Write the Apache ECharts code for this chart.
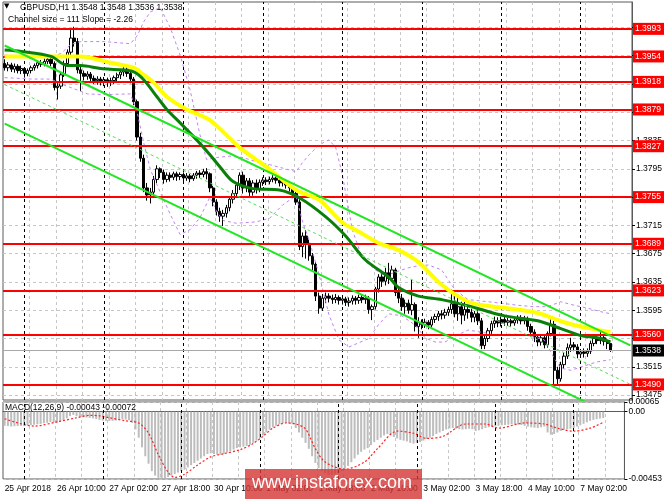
<!DOCTYPE html>
<html><head><meta charset="utf-8">
<script src="https://cdn.jsdelivr.net/npm/echarts@6/dist/echarts.min.js"></script>
<style>html,body{margin:0;padding:0;background:#fff}#c{width:665px;height:499px}</style>
</head><body><div id="c"></div>
<script>
// ---------- DATA ----------
const symbolName = 'GBPUSD', periodName = 'H1';
const channelSize = 111, channelSlope = -2.26;
const days = ['25 Apr','26 Apr','27 Apr','30 Apr','1 May','2 May','3 May','4 May','7 May'];
const firstHour = 18, lastHour = 9, emptySlots = 6;
const firstLabel = '25 Apr 2018';
// O, H, L, C per H1 bar
const candles = [
[1.3944,1.3950,1.3934,1.3938],[1.3938,1.3946,1.3933,1.3942],[1.3942,1.3945,1.3932,1.3936],[1.3936,1.3944,1.3931,1.3940],
[1.3940,1.3943,1.3930,1.3934],[1.3934,1.3941,1.3929,1.3937],[1.3937,1.3939,1.3924,1.3930],[1.3930,1.3937,1.3926,1.3934],
[1.3934,1.3941,1.3930,1.3938],[1.3938,1.3944,1.3934,1.3941],[1.3941,1.3948,1.3937,1.3945],[1.3945,1.3949,1.3939,1.3943],
[1.3943,1.3951,1.3940,1.3947],[1.3947,1.3954,1.3943,1.3950],[1.3950,1.3953,1.3940,1.3944],[1.3944,1.3947,1.3906,1.3910],
[1.3910,1.3918,1.3893,1.3912],[1.3912,1.3931,1.3908,1.3928],[1.3928,1.3948,1.3925,1.3944],[1.3944,1.3964,1.3940,1.3960],
[1.3960,1.3992,1.3955,1.3980],[1.3980,1.3996,1.3968,1.3975],[1.3975,1.3980,1.3930,1.3935],[1.3935,1.3940,1.3905,1.3930],
[1.3930,1.3934,1.3920,1.3926],[1.3926,1.3933,1.3921,1.3929],[1.3929,1.3932,1.3918,1.3923],[1.3923,1.3927,1.3915,1.3920],
[1.3920,1.3926,1.3914,1.3922],[1.3922,1.3925,1.3913,1.3918],[1.3918,1.3925,1.3912,1.3921],[1.3921,1.3924,1.3911,1.3917],
[1.3917,1.3924,1.3912,1.3920],[1.3920,1.3927,1.3915,1.3924],[1.3924,1.3931,1.3918,1.3928],[1.3928,1.3936,1.3922,1.3932],
[1.3932,1.3939,1.3926,1.3936],[1.3936,1.3940,1.3925,1.3930],[1.3930,1.3934,1.3916,1.3922],[1.3922,1.3925,1.3885,1.3890],
[1.3890,1.3893,1.3835,1.3840],[1.3840,1.3846,1.3805,1.3810],[1.3810,1.3815,1.3762,1.3768],[1.3768,1.3775,1.3750,1.3758],
[1.3758,1.3768,1.3746,1.3762],[1.3762,1.3785,1.3756,1.3780],[1.3780,1.3800,1.3775,1.3795],[1.3795,1.3797,1.3782,1.3790],
[1.3790,1.3794,1.3774,1.3780],[1.3780,1.3790,1.3776,1.3786],[1.3786,1.3790,1.3777,1.3783],[1.3783,1.3791,1.3779,1.3788],
[1.3788,1.3791,1.3778,1.3784],[1.3784,1.3790,1.3779,1.3787],[1.3787,1.3790,1.3776,1.3782],[1.3782,1.3789,1.3778,1.3785],
[1.3785,1.3788,1.3776,1.3781],[1.3781,1.3789,1.3778,1.3786],[1.3786,1.3792,1.3781,1.3789],[1.3789,1.3793,1.3782,1.3787],
[1.3787,1.3795,1.3783,1.3791],[1.3791,1.3796,1.3780,1.3788],[1.3788,1.3790,1.3762,1.3768],[1.3768,1.3771,1.3742,1.3748],
[1.3748,1.3752,1.3729,1.3735],[1.3735,1.3740,1.3720,1.3728],[1.3728,1.3737,1.3714,1.3732],[1.3732,1.3744,1.3726,1.3740],
[1.3740,1.3756,1.3735,1.3752],[1.3752,1.3765,1.3746,1.3760],[1.3760,1.3776,1.3756,1.3772],[1.3772,1.3790,1.3765,1.3786],
[1.3786,1.3791,1.3760,1.3768],[1.3768,1.3782,1.3762,1.3778],[1.3778,1.3782,1.3755,1.3762],[1.3762,1.3779,1.3757,1.3775],
[1.3775,1.3780,1.3760,1.3766],[1.3766,1.3780,1.3762,1.3776],[1.3776,1.3783,1.3771,1.3779],[1.3779,1.3783,1.3772,1.3777],
[1.3777,1.3784,1.3773,1.3780],[1.3780,1.3786,1.3776,1.3782],[1.3782,1.3785,1.3774,1.3779],[1.3779,1.3782,1.3770,1.3775],
[1.3775,1.3781,1.3770,1.3777],[1.3777,1.3780,1.3767,1.3772],[1.3772,1.3775,1.3763,1.3768],[1.3768,1.3771,1.3755,1.3760],
[1.3760,1.3764,1.3744,1.3748],[1.3748,1.3752,1.3680,1.3685],[1.3685,1.3705,1.3670,1.3700],[1.3700,1.3708,1.3668,1.3688],
[1.3688,1.3695,1.3665,1.3672],[1.3672,1.3676,1.3652,1.3660],[1.3660,1.3663,1.3608,1.3615],[1.3615,1.3620,1.3590,1.3598],
[1.3598,1.3618,1.3594,1.3612],[1.3612,1.3620,1.3605,1.3615],[1.3615,1.3619,1.3606,1.3612],[1.3612,1.3617,1.3604,1.3610],
[1.3610,1.3618,1.3605,1.3613],[1.3613,1.3616,1.3603,1.3609],[1.3609,1.3615,1.3603,1.3611],[1.3611,1.3614,1.3601,1.3606],
[1.3606,1.3613,1.3600,1.3608],[1.3608,1.3616,1.3603,1.3612],[1.3612,1.3615,1.3603,1.3609],[1.3609,1.3617,1.3604,1.3613],
[1.3613,1.3616,1.3605,1.3610],[1.3610,1.3617,1.3604,1.3612],[1.3612,1.3615,1.3590,1.3596],[1.3596,1.3603,1.3581,1.3600],
[1.3600,1.3628,1.3596,1.3625],[1.3625,1.3646,1.3620,1.3642],[1.3642,1.3650,1.3628,1.3636],[1.3636,1.3655,1.3630,1.3648],
[1.3648,1.3662,1.3632,1.3640],[1.3640,1.3658,1.3635,1.3652],[1.3652,1.3655,1.3615,1.3620],[1.3620,1.3628,1.3605,1.3612],
[1.3612,1.3618,1.3594,1.3600],[1.3600,1.3610,1.3590,1.3605],[1.3605,1.3610,1.3590,1.3595],[1.3595,1.3638,1.3588,1.3603],
[1.3603,1.3606,1.3565,1.3572],[1.3572,1.3585,1.3556,1.3578],[1.3578,1.3582,1.3568,1.3575],[1.3575,1.3583,1.3570,1.3578],
[1.3578,1.3581,1.3568,1.3574],[1.3574,1.3586,1.3570,1.3582],[1.3582,1.3590,1.3577,1.3586],[1.3586,1.3594,1.3580,1.3590],
[1.3590,1.3595,1.3582,1.3588],[1.3588,1.3597,1.3583,1.3592],[1.3592,1.3600,1.3587,1.3596],[1.3596,1.3624,1.3590,1.3604],
[1.3604,1.3615,1.3585,1.3590],[1.3590,1.3618,1.3580,1.3600],[1.3600,1.3607,1.3575,1.3588],[1.3588,1.3612,1.3580,1.3596],
[1.3596,1.3600,1.3583,1.3592],[1.3592,1.3597,1.3578,1.3585],[1.3585,1.3594,1.3578,1.3590],[1.3590,1.3596,1.3574,1.3580],
[1.3580,1.3584,1.3540,1.3545],[1.3545,1.3560,1.3540,1.3555],[1.3555,1.3570,1.3550,1.3566],[1.3566,1.3580,1.3560,1.3576],
[1.3576,1.3586,1.3570,1.3580],[1.3580,1.3585,1.3571,1.3577],[1.3577,1.3586,1.3572,1.3582],[1.3582,1.3586,1.3573,1.3578],
[1.3578,1.3584,1.3573,1.3580],[1.3580,1.3583,1.3572,1.3577],[1.3577,1.3585,1.3573,1.3581],[1.3581,1.3588,1.3576,1.3584],
[1.3584,1.3588,1.3575,1.3580],[1.3580,1.3587,1.3575,1.3583],[1.3583,1.3586,1.3566,1.3572],[1.3572,1.3576,1.3558,1.3564],
[1.3564,1.3568,1.3550,1.3557],[1.3557,1.3560,1.3544,1.3550],[1.3550,1.3560,1.3545,1.3556],[1.3556,1.3559,1.3541,1.3546],
[1.3546,1.3565,1.3542,1.3562],[1.3562,1.3582,1.3558,1.3575],[1.3575,1.3580,1.3486,1.3510],[1.3510,1.3515,1.3490,1.3498],
[1.3498,1.3522,1.3494,1.3518],[1.3518,1.3535,1.3512,1.3530],[1.3530,1.3548,1.3526,1.3542],[1.3542,1.3556,1.3536,1.3546],
[1.3546,1.3550,1.3537,1.3543],[1.3543,1.3547,1.3527,1.3533],[1.3533,1.3540,1.3528,1.3536],[1.3536,1.3541,1.3528,1.3534],
[1.3534,1.3541,1.3529,1.3537],[1.3537,1.3552,1.3533,1.3548],[1.3548,1.3559,1.3544,1.3555],[1.3555,1.3560,1.3547,1.3552],
[1.3552,1.3565,1.3547,1.3556],[1.3556,1.3559,1.3545,1.3551],[1.3551,1.3555,1.3540,1.3548],[1.3548,1.3548,1.3536,1.3538]
];
const levels = [1.3993, 1.3954, 1.3918, 1.3879, 1.3827, 1.3755, 1.3689, 1.3623, 1.3560, 1.3490];
const priceTicks = [1.3475,1.3515,1.3555,1.3595,1.3635,1.3675,1.3715,1.3755,1.3795,1.3835,1.3875,1.3915,1.3955,1.3995];
const priceMin = 1.3468, priceMax = 1.4031;
const maYellow = [[0,1.3954],[23,1.3954],[32,1.3945],[39,1.3938],[42,1.3928],[45,1.3917],[49,1.3897],[55,1.3879],[62,1.3864],[71,1.3825],[79,1.3798],[88,1.3765],[95,1.3751],[102,1.3719],[107,1.3706],[113,1.3690],[119,1.3680],[125,1.3663],[132,1.3631],[140,1.3607],[146,1.3601],[153,1.3597],[161,1.3591],[169,1.3578],[176,1.3570],[183,1.3564]];
const maGreen = [[0,1.3963],[5,1.3961],[14,1.3954],[19,1.3941],[23,1.3941],[29,1.3937],[35,1.3935],[39,1.3932],[42,1.3921],[46,1.3897],[49,1.3879],[53,1.3860],[58,1.3836],[62,1.3815],[65,1.3798],[69,1.3777],[75,1.3767],[83,1.3765],[89,1.3754],[97,1.3727],[103,1.3700],[109,1.3666],[116,1.3642],[119,1.3627],[125,1.3615],[132,1.3610],[141,1.3600],[151,1.3587],[161,1.3580],[168,1.3569],[174,1.3559],[179,1.3556],[183,1.3550]];
const bbUpper = [[0,1.3956],[8,1.3954],[14,1.3954],[17,1.3958],[20,1.3971],[23,1.3975],[30,1.3975],[38,1.3972],[40,1.3983],[42,1.4003],[44,1.4017],[47,1.4023],[50,1.3995],[53,1.3956],[56,1.3907],[59,1.3843],[61,1.3808],[64,1.3811],[68,1.3813],[72,1.3811],[76,1.3805],[80,1.3801],[84,1.3796],[88,1.3791],[90,1.3804],[92,1.3815],[95,1.3829],[98,1.3836],[100,1.3825],[102,1.3787],[105,1.3709],[108,1.3669],[112,1.3652],[115,1.3643],[118,1.3649],[122,1.3655],[125,1.3658],[128,1.3659],[132,1.3652],[136,1.3624],[140,1.3610],[146,1.3607],[150,1.3605],[155,1.3602],[160,1.3600],[164,1.3600],[168,1.3607],[172,1.3602],[176,1.3598],[180,1.3593],[183,1.3590]];
const bbLower = [[0,1.3924],[8,1.3922],[14,1.3922],[17,1.3915],[20,1.3910],[25,1.3901],[30,1.3900],[38,1.3901],[40,1.3876],[42,1.3832],[44,1.3794],[47,1.3762],[50,1.3731],[53,1.3702],[56,1.3709],[59,1.3726],[62,1.3755],[64,1.3735],[66,1.3722],[70,1.3718],[76,1.3720],[80,1.3725],[84,1.3744],[88,1.3757],[90,1.3720],[92,1.3694],[95,1.3645],[98,1.3588],[101,1.3553],[104,1.3543],[107,1.3549],[110,1.3555],[113,1.3575],[116,1.3590],[120,1.3587],[124,1.3574],[127,1.3556],[130,1.3550],[133,1.3550],[136,1.3558],[140,1.3567],[144,1.3564],[148,1.3560],[152,1.3561],[156,1.3561],[160,1.3557],[163,1.3553],[166,1.3527],[168,1.3513],[171,1.3510],[175,1.3516],[179,1.3522],[183,1.3525]];
const channelUpper = [[0,1.39695],[189,1.35453]];
const channelMiddle = [[0,1.39142],[189,1.34901]];
const channelLower = [[0,1.38590],[189,1.34349]];
const macdHist = [
-0.00095,-0.00097,-0.00100,-0.00098,-0.00096,-0.00095,
-0.00097,-0.00093,-0.00090,-0.00088,
-0.00085,-0.00082,-0.00078,-0.00075,-0.00070,-0.00072,-0.00075,-0.00068,-0.00058,-0.00045,
-0.00030,-0.00022,-0.00030,-0.00035,-0.00038,-0.00040,-0.00042,-0.00045,-0.00050,
-0.00055,-0.00060,-0.00062,-0.00063,-0.00062,-0.00060,-0.00056,-0.00052,-0.00053,-0.00058,
-0.00075,-0.00120,-0.00175,-0.00240,-0.00300,-0.00350,-0.00400,-0.00430,-0.00445,-0.00450,
-0.00448,-0.00440,-0.00430,-0.00420,-0.00410,-0.00400,-0.00390,-0.00375,-0.00360,-0.00345,
-0.00330,-0.00315,-0.00300,-0.00285,-0.00280,-0.00285,-0.00290,-0.00290,-0.00285,-0.00275,
-0.00265,-0.00255,-0.00245,-0.00240,-0.00235,-0.00230,-0.00222,-0.00210,-0.00195,-0.00180,
-0.00160,-0.00140,-0.00120,-0.00105,-0.00095,-0.00085,-0.00078,-0.00075,-0.00080,-0.00085,
-0.00110,-0.00140,-0.00175,-0.00210,-0.00250,-0.00300,-0.00345,-0.00380,-0.00400,-0.00415,
-0.00425,-0.00425,-0.00420,-0.00410,-0.00400,-0.00385,-0.00365,-0.00340,-0.00315,-0.00290,
-0.00270,-0.00255,-0.00245,-0.00225,-0.00205,-0.00190,-0.00175,-0.00160,-0.00150,-0.00155,
-0.00170,-0.00180,-0.00190,-0.00195,-0.00200,-0.00210,-0.00215,-0.00210,-0.00205,-0.00195,
-0.00185,-0.00175,-0.00165,-0.00150,-0.00140,-0.00130,-0.00120,-0.00112,-0.00110,-0.00115,
-0.00118,-0.00120,-0.00118,-0.00115,-0.00118,-0.00130,-0.00125,-0.00118,-0.00110,-0.00105,
-0.00100,-0.00098,-0.00095,-0.00092,-0.00090,-0.00088,-0.00085,-0.00085,-0.00087,-0.00090,
-0.00095,-0.00100,-0.00105,-0.00108,-0.00110,-0.00105,-0.00100,-0.00140,-0.00155,-0.00150,
-0.00140,-0.00130,-0.00122,-0.00118,-0.00115,-0.00110,-0.00100,-0.00092,-0.00082,-0.00072,
-0.00062,-0.00055,-0.00050,-0.00046,-0.00043
];
const macdSignal = [[0,-0.00048],[9,-0.00097],[16,-0.00069],[22,-0.00041],[26,-0.00025],[29,-0.00028],[32,-0.00041],[37,-0.00062],[41,-0.00076],[44,-0.00145],[47,-0.00290],[50,-0.00408],[52,-0.00442],[55,-0.00421],[59,-0.00359],[63,-0.00304],[67,-0.00283],[72,-0.00256],[76,-0.00214],[79,-0.00166],[82,-0.00111],[86,-0.00076],[89,-0.00083],[92,-0.00117],[95,-0.00249],[98,-0.00339],[104,-0.00387],[110,-0.00339],[114,-0.00249],[120,-0.00131],[125,-0.00145],[129,-0.00180],[134,-0.00166],[141,-0.00083],[147,-0.00083],[151,-0.00111],[159,-0.00076],[165,-0.00083],[169,-0.00111],[174,-0.00131],[179,-0.00111],[183,-0.00072]];
const macdTicks = [0.00065, 0, -0.00453];
const macdParams = '12,26,9';
const watermark = 'www.instaforex.com';

// ---------- BUILD ----------
const categories = [];
days.forEach((d, k) => {
  const h0 = k === 0 ? firstHour : 0;
  const h1 = k === days.length - 1 ? lastHour : 23;
  for (let h = h0; h <= h1; h++) categories.push(d + ' ' + String(h).padStart(2, '0') + ':00');
});
for (let k = 0; k < emptySlots; k++) categories.push('pad' + k);
const separators = categories.filter(c => c.endsWith(' 00:00'));
const last = candles[candles.length - 1];
const candleData = candles.map(c => [c[0], c[3], c[2], c[1]]);
const font = 'Liberation Sans';
const fs = 8.5;
const gridLine = { show: true, lineStyle: { color: '#c6c6c6', type: [3, 3], width: 1 } };
const vInterval = (i) => i % 8 === 0 && i > 0;

const chart = echarts.init(document.getElementById('c'), null, { renderer: 'canvas' });
const option = {
  animation: false,
  backgroundColor: '#ffffff',
  textStyle: { fontFamily: font },
  grid: [
    { left: 3, right: 33, top: 2, height: 398, show: true, borderColor: '#5a5a5a', borderWidth: 1 },
    { left: 3, right: 33, top: 402, height: 77, show: true, borderColor: '#5a5a5a', borderWidth: 1 }
  ],
  xAxis: [
    { type: 'category', gridIndex: 0, data: categories, boundaryGap: true,
      axisLine: { show: false }, axisTick: { show: false }, axisLabel: { show: false },
      splitLine: Object.assign({}, gridLine, { interval: vInterval }) },
    { type: 'category', gridIndex: 1, data: categories, boundaryGap: true,
      axisLine: { show: true, lineStyle: { color: '#5a5a5a' } },
      axisTick: { show: true, alignWithLabel: true, interval: 15, length: 3, lineStyle: { color: '#000' } },
      axisLabel: { show: true, interval: 15, align: 'left', color: '#000', fontSize: fs, fontFamily: font, margin: 5,
        formatter: (v, i) => i === 0 ? firstLabel : (v.startsWith('pad') ? '' : v) },
      splitLine: Object.assign({}, gridLine, { interval: vInterval }) }
  ],
  yAxis: [
    { type: 'value', gridIndex: 0, position: 'right', min: priceMin, max: priceMax,
      axisLine: { show: true, lineStyle: { color: '#5a5a5a' } },
      axisTick: { show: true, inside: false, length: 3, customValues: priceTicks, lineStyle: { color: '#000' } },
      axisLabel: { show: true, customValues: priceTicks, color: '#000', fontSize: fs, fontFamily: font, margin: 4,
        formatter: v => v.toFixed(4) },
      splitLine: gridLine },
    { type: 'value', gridIndex: 1, position: 'right', min: macdTicks[2], max: macdTicks[0],
      axisLine: { show: true, lineStyle: { color: '#5a5a5a' } },
      axisTick: { show: true, inside: false, length: 3, customValues: macdTicks, lineStyle: { color: '#000' } },
      axisLabel: { show: true, customValues: macdTicks, color: '#000', fontSize: fs, fontFamily: font, margin: 4,
        formatter: v => v === 0 ? '0.00' : v.toFixed(5) },
      splitLine: gridLine }
  ],
  series: [
    { type: 'line', xAxisIndex: 0, yAxisIndex: 0, data: [], z: 1, silent: true, clip: false,
      markLine: { silent: true, symbol: ['none', 'none'], label: { show: false },
        lineStyle: { color: '#000', type: [3, 3], width: 1 }, emphasis: { disabled: true },
        data: separators.map(c => ({ xAxis: c })) } },
    { type: 'line', xAxisIndex: 1, yAxisIndex: 1, data: [], z: 1, silent: true, clip: false,
      markLine: { silent: true, symbol: ['none', 'none'], label: { show: false },
        lineStyle: { color: '#000', type: [3, 3], width: 1 }, emphasis: { disabled: true },
        data: separators.map(c => ({ xAxis: c })) } },
    { type: 'line', xAxisIndex: 0, yAxisIndex: 0, data: [], z: 2, silent: true, clip: false,
      markLine: { silent: true, symbol: ['none', 'none'], precision: 5, emphasis: { disabled: true },
        lineStyle: { color: '#a8a8a8', type: 'solid', width: 1 },
        label: { show: true, position: 'end', distance: 1, formatter: p => Number(p.value).toFixed(4),
          backgroundColor: '#000', color: '#fff', fontSize: fs, fontFamily: font, padding: [2, 3, 1, 2] },
        data: [{ yAxis: last[3] }] } },
    { type: 'candlestick', xAxisIndex: 0, yAxisIndex: 0, data: candleData, z: 3, barWidth: 2.8,
      itemStyle: { color: '#ffffff', color0: '#000000', borderColor: '#000000', borderColor0: '#000000', borderWidth: 1 } },
    { type: 'line', data: bbUpper, symbol: 'none', z: 4, lineStyle: { color: '#c183f0', width: 1, type: [3, 3] } },
    { type: 'line', data: bbLower, symbol: 'none', z: 4, lineStyle: { color: '#c183f0', width: 1, type: [3, 3] } },
    { type: 'line', data: maYellow, symbol: 'none', z: 5, smooth: 0.3, lineStyle: { color: '#ffff00', width: 4 } },
    { type: 'line', data: maGreen, symbol: 'none', z: 6, smooth: 0.3, lineStyle: { color: '#0a800a', width: 3 } },
    { type: 'line', data: channelMiddle, symbol: 'none', z: 7, lineStyle: { color: '#55e055', width: 1, type: [3, 3] } },
    { type: 'line', data: channelUpper, symbol: 'none', z: 7, lineStyle: { color: '#22e622', width: 2 } },
    { type: 'line', data: channelLower, symbol: 'none', z: 7, lineStyle: { color: '#22e622', width: 2 } },
    { type: 'line', xAxisIndex: 0, yAxisIndex: 0, data: [], z: 8, silent: true, clip: false,
      markLine: { silent: true, symbol: ['none', 'none'], precision: 5, emphasis: { disabled: true },
        lineStyle: { color: '#ff0000', type: 'solid', width: 2 },
        label: { show: true, position: 'end', distance: 1, formatter: p => Number(p.value).toFixed(4),
          backgroundColor: '#ff0000', color: '#fff', fontSize: fs, fontFamily: font, padding: [2, 3, 1, 2] },
        data: levels.map(v => ({ yAxis: v })) } },
    { type: 'bar', xAxisIndex: 1, yAxisIndex: 1, data: macdHist, barWidth: 2, z: 2,
      itemStyle: { color: '#bdbdbd' } },
    { type: 'line', xAxisIndex: 1, yAxisIndex: 1, data: macdSignal, symbol: 'none', z: 3, smooth: 0.3,
      lineStyle: { color: '#ff2020', width: 1.2, type: [2, 2] } }
  ],
  graphic: [
    { type: 'text', left: 4, top: 3, z: 100, style: { text: '\u25BC', font: '7px "DejaVu Sans"', fill: '#000' } },
    { type: 'text', left: 20, top: 3, z: 100, style: {
      text: symbolName + ',' + periodName + ' ' + last.map(v => v.toFixed(4)).join(' '),
      font: fs + 'px "' + font + '"', fill: '#000' } },
    { type: 'text', left: 8, top: 15, z: 100, style: {
      text: 'Channel size = ' + channelSize + ' Slope = ' + channelSlope.toFixed(2),
      font: fs + 'px "' + font + '"', fill: '#000' } },
    { type: 'text', left: 5, top: 403, z: 100, style: {
      text: 'MACD(' + macdParams + ') ' + macdHist[macdHist.length - 1].toFixed(5) + ' ' + macdSignal[macdSignal.length - 1][1].toFixed(5),
      font: fs + 'px "' + font + '"', fill: '#000' } },
    { type: 'rect', left: 245, top: 469, z: 100, shape: { width: 177, height: 30 },
      style: { fill: 'rgba(212,52,52,0.8)' } },
    { type: 'text', left: 252, top: 474, z: 101, style: { text: watermark,
      font: '18px "' + font + '"', fill: '#ffffff' } }
  ]
};
chart.setOption(option);
</script>
</body></html>
